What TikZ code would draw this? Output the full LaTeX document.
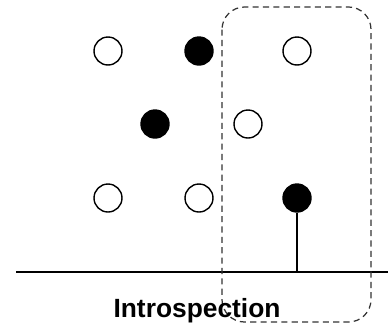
\documentclass[tikz,border=0pt]{standalone}
\usepackage{fontspec}
\setmainfont{Liberation Sans}
\begin{document}
\begin{tikzpicture}[
    x=0.02cm,y=-0.02cm,
    dot/.style={circle,draw=black,line width=0.8pt,minimum size=0.56cm,inner sep=0pt},
    open/.style={dot,fill=white},
    full/.style={dot,fill=black},
    window/.style={draw=black!80,dashed,dash pattern=on 3.5pt off 2.4pt,line width=0.7pt,rounded corners=0.45cm},
]
    \useasboundingbox (0,0) rectangle (388,326);
    % samples
    \node[open] (a1) at (108,51) {};
    \node[full] (a2) at (199,51) {};
    \node[open] (a3) at (297,51) {};
    \node[full] (b1) at (155,124) {};
    \node[open] (b2) at (248,124) {};
    \node[open] (c1) at (108,198) {};
    \node[open] (c2) at (199,198) {};
    \node[full] (c3) at (297,198) {};
    % ground line
    \coordinate (gl) at (16,272);
    \coordinate (gr) at (388,272);
    \draw[line width=1.1pt] (gl) -- (gr);
    \draw[line width=0.6pt] (c3.south) -- (c3 |- gl);
    % window
    \draw[window] (222,7) rectangle (371,322);
    \node[font=\fontsize{15}{18}\selectfont\bfseries] (lbl) at (197,311) {Introspection};
\end{tikzpicture}
\end{document}
